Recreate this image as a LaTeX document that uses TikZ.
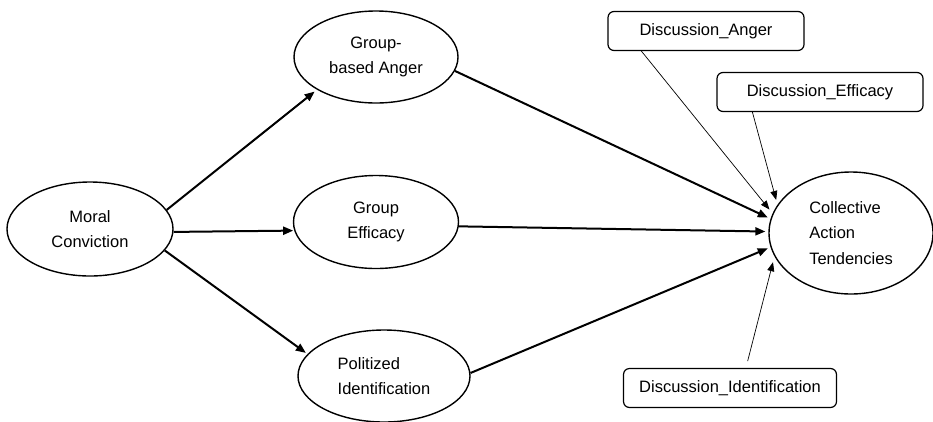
\documentclass[tikz,border=0pt]{standalone}
\usepackage{fontspec}
\setmainfont{Liberation Sans}
\usetikzlibrary{shapes.geometric,arrows.meta,calc}
\begin{document}
\begin{tikzpicture}[x=1pt,y=-1pt,
  every node/.style={font=\fontsize{16.5}{25.5}\selectfont},
  latent/.style={ellipse,draw,line width=1.4pt,inner sep=0pt},
  disc/.style={rectangle,rounded corners=6pt,draw,line width=1.2pt,minimum height=39pt,inner sep=0pt},
  mainarrow/.style={line width=2pt,-{Triangle[length=10pt,width=8pt]}},
  thinarrow/.style={line width=0.7pt,-{Triangle[length=9pt,width=7pt]}}]
\useasboundingbox (0,0) rectangle (933,421);

\node[latent,minimum width=166pt,minimum height=94pt,align=center] (mc) at (90,229) {Moral\\Conviction};
\node[latent,minimum width=164pt,minimum height=92pt,align=center] (ang) at (376,57) {Group-\\based Anger};
\node[latent,minimum width=165pt,minimum height=93pt,align=center] (eff) at (376,222) {Group\\Efficacy};
\node[latent,minimum width=172pt,minimum height=92pt,align=left] (pid) at (384,376) {Politized\\Identification};
\node[latent,minimum width=164pt,minimum height=122pt,align=left] (cat) at (851,233) {Collective\\Action\\Tendencies};

\node[disc,minimum width=196pt] (da) at (706,31) {Discussion\_Anger};
\node[disc,minimum width=206pt] (de) at (820,92) {Discussion\_Efficacy};
\node[disc,minimum width=213pt] (di) at (730,388) {Discussion\_Identification};

\draw[mainarrow,shorten >=3pt] (mc.14) -- (ang.209);
\draw[mainarrow,shorten >=1pt] (mc.358) -- (eff.186);
\draw[mainarrow,shorten >=2pt] (mc.-16) -- (pid.164);
\draw[mainarrow,shorten >=3pt] (ang.-10) -- (cat.170);
\draw[mainarrow,shorten >=3pt] (eff.-3) -- (cat.179);
\draw[mainarrow,shorten >=3pt] (pid.2) -- (cat.190);

\draw[thinarrow,shorten >=5pt] ($(da.south west)+(34,0)$) -- (cat.166);
\draw[thinarrow,shorten >=5pt] ($(de.south west)+(36,0)$) -- (cat.159);
\draw[thinarrow,shorten <=7pt,shorten >=6pt] ($(di.north west)+(123,0)$) -- (cat.197);
\end{tikzpicture}
\end{document}
